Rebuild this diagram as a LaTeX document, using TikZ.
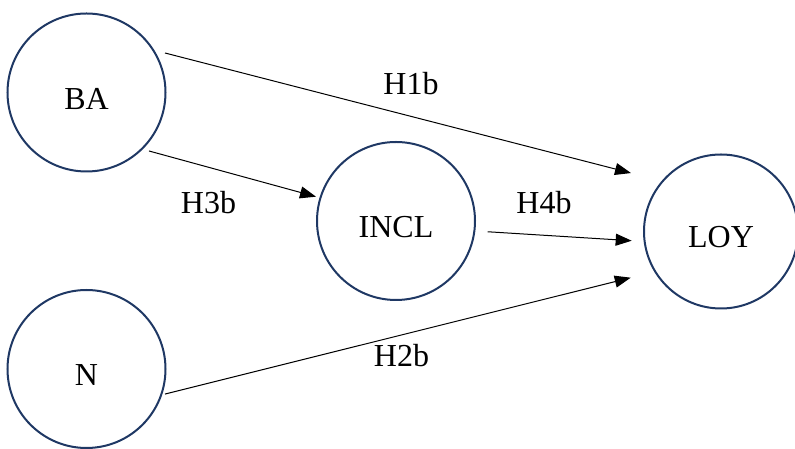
\documentclass[tikz,border=0pt]{standalone}
\usepackage{fontspec}
\setmainfont{Liberation Serif}
\usetikzlibrary{calc,arrows.meta}
\definecolor{navy}{HTML}{1F3864}
\tikzset{
  var/.style={circle,draw=navy,line width=2pt,minimum size=158pt,inner sep=0pt},
  link/.style={-{Triangle[length=16pt,width=12pt]},line width=1pt},
  hyp/.style={inner sep=0pt}
}

\begin{document}
\begin{tikzpicture}[x=1pt,y=1pt,font=\fontsize{32}{38}\selectfont]
\useasboundingbox (0,0) rectangle (795,449);
\node[var,label={[yshift=-6pt]center:BA}] (BA) at (86.5,356.5) {};
\node[var,label={[yshift=-6pt]center:INCL}] (INCL) at (396,228) {};
\node[var,minimum size=154pt,label={[yshift=-6pt]center:LOY}] (LOY) at (721,217.5) {};
\node[var,label={[yshift=-6pt]center:N}] (N) at (86.5,80) {};
\draw[link] ($(BA)+(26.7:87.9)$) -- ($(LOY)+(147.0:107.3)$);
\draw[link] ($(BA)+(-43.1:85.6)$) -- ($(INCL)+(163.1:83.6)$);
\draw[link] ($(INCL)+(-6.7:92.3)$) -- ($(LOY)+(185.9:89.8)$);
\draw[link] ($(N)+(-17.7:82.4)$) -- ($(LOY)+(207.1:101.4)$);
\node[hyp] (h1) at (411,365) {H1b};
\node[hyp] (h3) at (208.5,246) {H3b};
\node[hyp] (h4) at (544,246.5) {H4b};
\node[hyp] (h2) at (401.5,93) {H2b};
\end{tikzpicture}
\end{document}
